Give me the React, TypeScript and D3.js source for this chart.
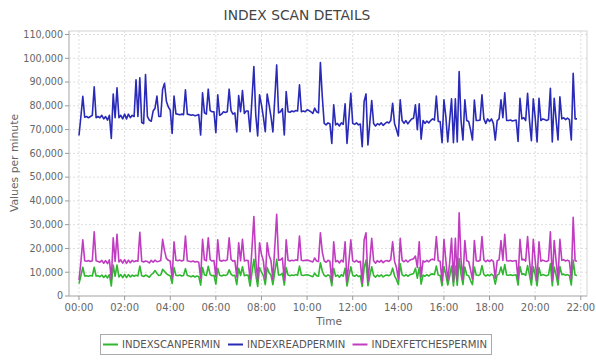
import React from "react";
import * as d3 from "d3";

const TITLE = "INDEX SCAN DETAILS";
const Y_LABEL = "Values per minute";
const X_LABEL = "Time";
const STEP_MINUTES = 5;
const UNIT = 1000;

const X_TICK_LABELS = ["00:00","02:00","04:00","06:00","08:00","10:00","12:00","14:00","16:00","18:00","20:00","22:00"];
const Y_TICKS = [0,10000,20000,30000,40000,50000,60000,70000,80000,90000,100000,110000];

const SERIES_NAMES = ["INDEXSCANPERMIN","INDEXREADPERMIN","INDEXFETCHESPERMIN"];
const SERIES_COLORS = ["#2fb82f","#2a2ab8","#c03cc0"];

// values in thousands per minute, one point every 5 minutes from 00:00
const SCAN_K = [5.2,8.5,12.1,8.4,8.5,8.3,8.6,8.4,12.1,8.4,8.5,8.1,8.8,7.8,8.7,7.6,9,4.2,13,8.3,
13,8,9,7.7,9.1,7.8,9,8,8.8,8.3,8.7,8.4,12.6,8.5,8.2,8.8,8.4,7.9,9,9.6,
10.7,9.5,8.6,8.8,11.2,10.3,9.4,8.8,8.5,5.3,12,8.7,8.5,8.8,8.4,8.6,11.5,8.6,8.4,8.1,
8.5,8,8.4,8.2,4.6,12,8.9,8.6,12.5,9,8.5,8.7,5,11.7,8.7,8.4,8.8,8.6,9,11,
9.2,8.5,8.7,4.8,11.7,8.6,12.3,8.5,8.8,8.7,4.2,9.8,15.4,8.9,4,12,10,8.6,4.8,12,
9.8,8.7,4.8,10,15.4,8.8,8.9,9.5,4.6,12,8.8,8.5,8.8,8.6,9,8.7,12.6,8.8,8.6,8.8,
8.9,8.7,8.4,8.1,9.6,8.5,8.3,14,10.5,8.7,8.2,8.9,8.5,4.3,11.7,8.3,8.8,7.9,9,8.3,
11.7,4.2,8.5,12.3,8.7,8.3,8.9,8.2,8.5,4,11.7,15.1,4.3,8.5,12.3,8.7,7.9,8.8,8.2,8.9,
8,8.6,8.8,8.5,9.1,11.7,8.5,7,4.8,13.5,8.9,8.4,9,8.3,8.9,9.2,9.5,11.7,7.5,12,
5,8.8,8.3,9,8.4,9.1,9.3,9,12.6,8.8,8.6,4.3,12.4,9,4.6,8.3,12.6,4.2,12.6,4.5,
15.8,9,4.8,12.2,8.8,8.5,6.5,4.8,12.2,8.8,8.6,9,12.8,9.1,8.4,9,8.5,9.2,8.6,5,
8.8,9.2,12.2,9,13.2,8.8,8.7,8.9,8.6,8.8,8.9,4.6,12.4,9.1,9.3,8.7,12.8,8.8,4.6,12.4,
9,4.3,12,8.6,9,8.7,8.5,8.9,13.5,4.3,12.2,8.8,4.6,12.4,9,9.2,8.7,9,8.6,4.6,
15.1,8.8,8.6];

const READ_K = [67.5,75.5,84,75.2,75.5,75,75.5,76,88,75,75.5,75,76,74.5,75.5,74,76,66.3,85,75,
87.6,75,76,74.5,76.5,74.5,76.5,75,76,75.5,90.9,75.5,91.8,73,72.5,93.2,75.5,74,73.5,77.8,
79,84.1,75.5,75.5,87,89.5,81.8,79.5,78.2,68.4,84.1,76.6,76.5,76.2,76.5,76.3,86.7,76.5,76.3,76,
76.2,75.8,76,76.3,67.7,85.5,77,76.5,87,78,77.5,77.5,68.7,84.6,76,76.5,77.5,77.2,77.5,87,
78,76.5,77,69,84.3,77.5,86.4,76.8,77.8,77.8,69.1,82.8,96.5,76.1,67.3,84.6,80.4,75.2,69.1,85,
80.4,75.5,69,83,97.2,77,77.5,78.8,67.7,86,77.5,77.3,77.8,77.5,78,77.8,88.8,77.5,77.8,77.5,
78.3,78,77.5,76.8,79,77.5,77,98.2,83.8,72.6,72,72.8,72.5,64.2,80.4,72,72.6,71.5,72.8,72.2,
80.8,64.2,74.7,85.3,72.6,72.2,72.8,72,72.3,62.8,81.8,85,63.5,72.8,82.2,72.6,71.5,72.5,72,72.8,
71.8,72.5,73.2,72.8,73.8,81.1,72.6,70,67.3,82.5,73.8,72.6,73.8,72.4,73.5,74.5,74.8,80.4,70,80.8,
66,73.8,72.6,73.6,72.8,73.8,74.5,74,84.1,73.4,73.4,64.5,82.5,75.5,64.8,74,82.9,64.5,82.9,64.8,
94.4,73.8,65.6,82.5,73.8,73.4,70,65.6,82.4,73.8,73.8,74,84.6,74.5,72.6,74.5,73.4,74.5,72.6,65.6,
73.8,74.5,82.5,75,85.5,73.8,73.8,74,73.6,73.8,74,65,83.2,74.5,75,73.8,85.3,73.8,65.3,82.9,
75,64.8,83.2,73.8,74.5,74.2,73.8,74.2,87.4,64.8,83.2,74.2,65.6,83.8,74.5,75,74.2,74.8,74.2,65.6,
93.7,74.5,74.5];

const FETCH_K = [6.7,14.4,23.6,14.8,14.6,14.9,14.5,14.8,27,14.8,14.5,14.2,15,13.8,14.9,13.6,15.2,7,24.5,14.5,
26,14.3,15.2,13.8,15.3,13.7,15.1,14,15,14.4,14.8,14.6,26.8,14.6,14.3,14.7,14.5,13.9,15,14.2,
15.1,14.4,14.6,14.9,23.8,19,15.8,15,14.6,7.5,22.8,15,14.8,15.1,14.7,15,25.2,14.8,14.6,14.4,
14.7,14.3,14.5,14.2,7.5,23.8,15.2,14.8,24.5,15.3,14.7,14.9,8,23.6,15,14.6,15,14.8,15.2,24.5,
15.4,14.6,14.9,8,22.4,14.8,23.8,14.7,15,14.9,7,20,33.4,15.2,6.5,22.4,17.5,14.8,7,22.4,
17,14.9,7,20.5,34.4,15,15.2,16,6.5,23.6,15,14.7,15,14.8,15.2,14.9,25.2,15,14.8,15,
15.1,14.9,14.6,14.3,16,14.7,14.5,26.6,18.5,14.8,14.2,15,14.6,6,22.8,14.4,14.9,13.9,15.1,14.3,
22.8,6,14.5,23.6,14.8,14.3,15,14.2,14.6,5.5,23.6,26.6,6,14.6,24.3,14.8,13.8,14.9,14.2,15,
14,14.7,14.9,14.5,15.3,22.8,14.6,12,7,24.3,15,14.4,15.1,14.3,15,15.4,15.7,16.8,12,22.8,
8,14.8,14.3,15,14.4,15.2,15.5,15.1,25,14.8,14.6,6,23.8,15,6.5,14,24.3,6,24.3,6.5,
35,15,7,23.3,14.8,14.5,11,7,23.3,14.8,14.6,15,25,15.2,14.4,15.1,14.5,15.2,14.6,7.5,
14.8,15.2,23.3,15,26,14.8,14.7,14.9,14.6,14.8,14.9,7,23.8,15.2,15.4,14.7,25,14.8,7,23.8,
15,6.5,22.8,14.6,15.1,14.7,14.5,14.9,27,6.5,23.3,14.8,7,23.8,15,15.3,14.7,15.1,14.6,7,
33.1,14.8,14.6];

const W = 596;
const H = 360;
const PLOT = { left: 69, right: 587, top: 31, bottom: 296 };
const FONT = "'DejaVu Sans', sans-serif";

const toMinutes = (s: string) => {
  const [h, m] = s.split(":").map(Number);
  return h * 60 + m;
};

export default function App() {
  const x = d3.scaleLinear().domain([-26.3, 1336.3]).range([PLOT.left, PLOT.right]);
  const y = d3.scaleLinear().domain([0, 111470]).range([PLOT.bottom, PLOT.top]);

  const seriesValues = [SCAN_K, READ_K, FETCH_K];
  const line = d3
    .line<number>()
    .x((_, i) => x(i * STEP_MINUTES))
    .y((d) => y(d * UNIT));

  const legendX = [103, 228, 352.5];

  return (
    <div style={{ position: "absolute", left: 0, top: 0 }}>
      <svg width={W} height={H} style={{ display: "block", background: "#fff" }} fontFamily={FONT}>
        <text x={297} y={20} textAnchor="middle" fontSize={13.8} fill="#444">{TITLE}</text>

        {/* grid */}
        {Y_TICKS.map((t) => (
          <line key={"gy" + t} x1={PLOT.left} x2={PLOT.right} y1={y(t)} y2={y(t)} stroke="#dedede" strokeDasharray="2,2" />
        ))}
        {X_TICK_LABELS.map((l) => (
          <line key={"gx" + l} x1={x(toMinutes(l))} x2={x(toMinutes(l))} y1={PLOT.top} y2={PLOT.bottom} stroke="#dedede" strokeDasharray="2,2" />
        ))}

        <rect x={PLOT.left} y={PLOT.top} width={PLOT.right - PLOT.left} height={PLOT.bottom - PLOT.top} fill="none" stroke="#d4d4d4" />
        <line x1={PLOT.left} x2={PLOT.left} y1={PLOT.top} y2={PLOT.bottom} stroke="#bbb" />
        <line x1={PLOT.left} x2={PLOT.right} y1={PLOT.bottom} y2={PLOT.bottom} stroke="#bbb" />

        {/* y ticks */}
        {Y_TICKS.map((t) => (
          <g key={"yt" + t}>
            <line x1={PLOT.left - 4} x2={PLOT.left} y1={y(t)} y2={y(t)} stroke="#999" />
            <text x={PLOT.left - 6} y={y(t)} dy="0.35em" textAnchor="end" fontSize={9.6} fill="#666">
              {d3.format(",")(t)}
            </text>
          </g>
        ))}
        {/* x ticks */}
        {X_TICK_LABELS.map((l) => (
          <g key={"xt" + l}>
            <line x1={x(toMinutes(l))} x2={x(toMinutes(l))} y1={PLOT.bottom} y2={PLOT.bottom + 4} stroke="#999" />
            <text x={x(toMinutes(l))} y={PLOT.bottom + 15} textAnchor="middle" fontSize={10} fill="#666">{l}</text>
          </g>
        ))}

        <text transform={`translate(18,163) rotate(-90)`} textAnchor="middle" fontSize={10.8} fill="#666">{Y_LABEL}</text>
        <text x={329} y={325} textAnchor="middle" fontSize={10.5} fill="#666">{X_LABEL}</text>

        {/* series */}
        {seriesValues.map((vals, si) => (
          <path key={"s" + si} d={line(vals) || ""} fill="none" stroke={SERIES_COLORS[si]} strokeWidth={1.6} strokeLinejoin="round" />
        ))}

        {/* legend */}
        <rect x={100.5} y={334.5} width={391} height={20} fill="#fff" stroke="#aaa" />
        {SERIES_NAMES.map((n, i) => (
          <g key={"lg" + n}>
            <line x1={legendX[i]} x2={legendX[i] + 15} y1={344.5} y2={344.5} stroke={SERIES_COLORS[i]} strokeWidth={2} />
            <text x={legendX[i] + 19} y={348.3} fontSize={10.1} fill="#555">{n}</text>
          </g>
        ))}
      </svg>
    </div>
  );
}
